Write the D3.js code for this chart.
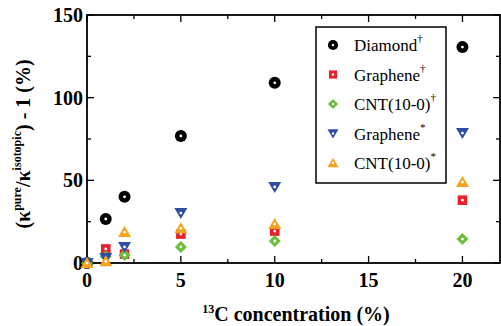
<!DOCTYPE html>
<meta charset="utf-8">
<script src="https://d3js.org/d3.v7.min.js"></script>
<style>
  body { margin: 0; background: #fff; }
</style>
<div id="chart"></div>
<script>
// concentrations (%)
var conc = [0, 1, 2, 5, 10, 20];
var diamondT  = [0, 26.6, 40, 76.8, 109, 130.6];
var grapheneT = [0, 8.5, 5.4, 17.5, 19.3, 38];
var cntT      = [0, 4, 4.8, 9.7, 13.3, 14.5];
var grapheneS = [0, 3, 9.7, 30.2, 46, 78.6];
var cntS      = [0, 1, 18.7, 21, 23.6, 49];

var xTicks = [0, 5, 10, 15, 20];
var yTicks = [0, 50, 100, 150];

var series = [
  {name: "Diamond", mark: "\u2020", vals: diamondT, shape: "circle", color: "#000"},
  {name: "Graphene", mark: "\u2020", vals: grapheneT, shape: "square", color: "#e8212b"},
  {name: "CNT(10-0)", mark: "\u2020", vals: cntT, shape: "diamond", color: "#6cbf3c"},
  {name: "Graphene", mark: "*", vals: grapheneS, shape: "down", color: "#2e4ea3"},
  {name: "CNT(10-0)", mark: "*", vals: cntS, shape: "up", color: "#f7a21b"}
];

var W = 501, H = 326;
var margin = {top: 15, right: 1, bottom: 63, left: 87},
    width = W - margin.left - margin.right,
    height = H - margin.top - margin.bottom;

var svg = d3.select("#chart").append("svg")
    .attr("width", W).attr("height", H)
    .attr("font-family", "Liberation Serif");
var g = svg.append("g")
    .attr("transform", "translate(" + margin.left + "," + margin.top + ")");

var x = d3.scaleLinear().domain([0, 22]).range([0, width]);
var y = d3.scaleLinear().domain([0, 150]).range([height, 0]);

// minor + major ticks, inward, on all four sides
var xMinor = d3.range(0, 22.1, 2.5), yMinor = d3.range(0, 151, 25);
function tickLen(v, step) { return (v % step === 0) ? 7 : 4; }

var ticks = g.append("g").attr("stroke", "#000").attr("stroke-width", 1.3);
xMinor.forEach(function(v) {
  var l = tickLen(v, 5);
  ticks.append("line").attr("x1", x(v)).attr("x2", x(v)).attr("y1", height).attr("y2", height - l);
  ticks.append("line").attr("x1", x(v)).attr("x2", x(v)).attr("y1", 0).attr("y2", l);
});
yMinor.forEach(function(v) {
  var l = tickLen(v, 50);
  ticks.append("line").attr("y1", y(v)).attr("y2", y(v)).attr("x1", 0).attr("x2", l);
  ticks.append("line").attr("y1", y(v)).attr("y2", y(v)).attr("x1", width).attr("x2", width - l);
});

g.append("rect").attr("width", width).attr("height", height)
  .attr("fill", "none").attr("stroke", "#000").attr("stroke-width", 1.8);

// tick labels
g.selectAll(".xl").data(xTicks).enter().append("text")
  .attr("x", function(d) { return x(d); })
  .attr("y", height + 24)
  .attr("text-anchor", "middle")
  .attr("font-size", 20).attr("font-weight", "bold")
  .text(function(d) { return d; });
g.selectAll(".yl").data(yTicks).enter().append("text")
  .attr("x", -4)
  .attr("y", function(d) { return y(d) + 7; })
  .attr("text-anchor", "end")
  .attr("font-size", 20).attr("font-weight", "bold")
  .text(function(d) { return d; });

// axis titles
var xt = svg.append("text").attr("x", 296).attr("y", 321)
  .attr("text-anchor", "middle").attr("font-size", 20).attr("font-weight", "bold");
xt.append("tspan").attr("font-size", 12).attr("dy", -8).text("13");
xt.append("tspan").attr("dy", 8).text("C concentration (%)");

var yt = svg.append("text")
  .attr("transform", "translate(30,144) rotate(-90)")
  .attr("text-anchor", "middle").attr("font-size", 20).attr("font-weight", "bold");
yt.append("tspan").text("(\u03ba");
yt.append("tspan").attr("font-size", 12).attr("dy", -9).text("pure");
yt.append("tspan").attr("dy", 9).text("/\u03ba");
yt.append("tspan").attr("font-size", 12).attr("dy", -9).text("isotopic");
yt.append("tspan").attr("dy", 9).text(") - 1 (%)");

// marker drawing: filled shapes with a small white centre
function drawMark(sel, s, k) {
  k = k || 1;
  if (s.shape === "circle") {
    sel.append("circle").attr("r", 6 * k).attr("fill", s.color);
  } else if (s.shape === "square") {
    sel.append("rect").attr("x", -4.8 * k).attr("y", -4.8 * k)
      .attr("width", 9.6 * k).attr("height", 9.6 * k).attr("fill", s.color);
  } else if (s.shape === "diamond") {
    var r = 6 * k;
    sel.append("path").attr("d", "M0," + (-r) + "L" + r + ",0L0," + r + "L" + (-r) + ",0Z").attr("fill", s.color);
  } else if (s.shape === "down") {
    sel.append("path").attr("d", "M" + (-6.5 * k) + "," + (-5 * k) + "L" + (6.5 * k) + "," + (-5 * k) + "L0," + (6 * k) + "Z")
      .attr("fill", s.color);
  } else {
    sel.append("path").attr("d", "M" + (-6.5 * k) + "," + (5 * k) + "L" + (6.5 * k) + "," + (5 * k) + "L0," + (-6 * k) + "Z")
      .attr("fill", s.color);
  }
  sel.append("circle").attr("r", 1.4 * k).attr("fill", "#fff");
}

series.forEach(function(s) {
  g.selectAll(null).data(s.vals).enter().append("g")
    .attr("transform", function(d, i) { return "translate(" + x(conc[i]) + "," + y(d) + ")"; })
    .each(function() { drawMark(d3.select(this), s); });
});

// legend
var leg = svg.append("g").attr("transform", "translate(316,27)");
leg.append("rect").attr("width", 130).attr("height", 156)
  .attr("fill", "#fff").attr("stroke", "#000").attr("stroke-width", 1.5);
series.forEach(function(s, i) {
  var row = leg.append("g").attr("transform", "translate(0," + (18 + i * 29.5) + ")");
  var m = row.append("g").attr("transform", "translate(17,0)");
  drawMark(m, s, 0.85);
  var t = row.append("text").attr("x", 38).attr("y", 6).attr("font-size", 17).attr("fill", "#000");
  t.append("tspan").text(s.name);
  t.append("tspan").attr("font-size", 11).attr("dy", -9).text(s.mark);
});
</script>
